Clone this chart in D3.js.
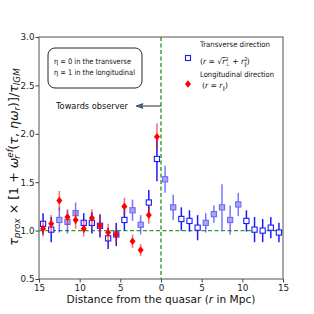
<!DOCTYPE html>
<html>
<head>
<meta charset="utf-8">
<script src="https://cdn.jsdelivr.net/npm/d3@7"></script>
<style>
body { margin: 0; background: #fff; }
svg text { font-family: "DejaVu Sans", sans-serif; }
</style>
</head>
<body>
<svg id="chart" width="314" height="314"></svg>
<script>
// transverse direction (blue squares), x = signed distance
var transX   = [-14.5,-13.5,-12.5,-11.5,-10.5,-9.5,-8.5,-7.5,-6.5,-5.5,-4.5,-3.5,-2.5,-1.5,-0.5,
                 0.5,1.5,2.5,3.5,4.5,5.5,6.5,7.5,8.5,9.5,10.5,11.5,12.5,13.5,14.5]
var transY   = [1.07,1.01,1.11,1.09,1.18,1.08,1.08,1.05,0.92,0.96,1.11,1.21,1.06,1.29,1.74,
                 1.53,1.24,1.12,1.10,1.03,1.08,1.17,1.24,1.11,1.27,1.10,1.01,1.00,1.03,0.98]
var transErr = [0.11,0.13,0.13,0.12,0.11,0.10,0.11,0.12,0.11,0.12,0.11,0.11,0.10,0.13,0.23,
                 0.14,0.13,0.12,0.11,0.13,0.10,0.09,0.24,0.15,0.12,0.11,0.13,0.12,0.11,0.10]
// points drawn in the lighter, filled style
var transShaded = [-12.5,-11.5,-10.5,-3.5,-2.5,0.5,1.5,5.5,6.5,7.5,8.5,9.5]

// longitudinal direction (red diamonds)
var longX   = [-14.5,-13.5,-12.5,-11.5,-10.5,-9.5,-8.5,-7.5,-6.5,-5.5,-4.5,-3.5,-2.5,-1.5,-0.5]
var longY   = [1.02,1.07,1.31,1.14,1.11,1.02,1.13,1.05,0.98,0.96,1.25,0.89,0.80,1.16,1.97]
var longErr = [0.08,0.09,0.10,0.08,0.09,0.08,0.09,0.10,0.09,0.09,0.09,0.07,0.06,0.09,0.14]

var xTicks = [-15,-10,-5,0,5,10,15]
var yTicks = [0.5,1.0,1.5,2.0,2.5,3.0]

var svg = d3.select("#chart")
var pL = 39, pR = 283, pT = 37, pB = 279

var x = d3.scaleLinear().domain([-15, 15]).range([pL, pR])
var y = d3.scaleLinear().domain([0.5, 3.0]).range([pB, pT])

// reference lines
svg.append("line")
    .attr("x1", x(0)).attr("x2", x(0)).attr("y1", pT).attr("y2", pB)
    .attr("stroke", "#2e9a2e").attr("stroke-width", 1.4).attr("stroke-dasharray", "4,2.5")
svg.append("line")
    .attr("x1", pL).attr("x2", pR).attr("y1", y(1)).attr("y2", y(1))
    .attr("stroke", "#2e9a2e").attr("stroke-width", 1.4).attr("stroke-dasharray", "4,2.5")

// blue series
var trans = transX.map(function (d, i) {
    return {x: d, y: transY[i], e: transErr[i], shaded: transShaded.indexOf(d) >= 0}
})
svg.selectAll(".tbar")
    .data(trans)
    .join("line")
    .attr("class", "tbar")
    .attr("x1", d => x(d.x)).attr("x2", d => x(d.x))
    .attr("y1", d => y(d.y + d.e)).attr("y2", d => y(d.y - d.e))
    .attr("stroke", "#1a1aff")
    .attr("stroke-opacity", d => d.shaded ? 0.6 : 1)
    .attr("stroke-width", 1.5)
svg.selectAll(".tpt")
    .data(trans)
    .join("rect")
    .attr("class", "tpt")
    .attr("x", d => x(d.x) - 2.6).attr("y", d => y(d.y) - 2.6)
    .attr("width", 5.2).attr("height", 5.2)
    .attr("fill", d => d.shaded ? "#a8a8f0" : "#fff")
    .attr("stroke", d => d.shaded ? "#6a6af5" : "#1a1aff")
    .attr("stroke-width", 1.1)

// red series
var longi = longX.map(function (d, i) { return {x: d, y: longY[i], e: longErr[i]} })
svg.selectAll(".lbar")
    .data(longi)
    .join("line")
    .attr("class", "lbar")
    .attr("x1", d => x(d.x)).attr("x2", d => x(d.x))
    .attr("y1", d => y(d.y + d.e)).attr("y2", d => y(d.y - d.e))
    .attr("stroke", "#ff0000").attr("stroke-opacity", 0.55).attr("stroke-width", 1.6)
svg.selectAll(".lpt")
    .data(longi)
    .join("path")
    .attr("class", "lpt")
    .attr("d", d => `M${x(d.x)} ${y(d.y) - 3.8} L${x(d.x) + 3} ${y(d.y)} L${x(d.x)} ${y(d.y) + 3.8} L${x(d.x) - 3} ${y(d.y)} Z`)
    .attr("fill", "#ff0000")

// frame
svg.append("rect")
    .attr("x", pL).attr("y", pT).attr("width", pR - pL).attr("height", pB - pT)
    .attr("fill", "none").attr("stroke", "#6e6e6e").attr("stroke-width", 1.2)

// axes
var gx = svg.append("g")
    .attr("transform", `translate(0,${pB})`)
    .call(d3.axisBottom(x).tickValues(xTicks).tickFormat(d => Math.abs(d)).tickSize(3.5).tickPadding(2))
var gy = svg.append("g")
    .attr("transform", `translate(${pL},0)`)
    .call(d3.axisLeft(y).tickValues(yTicks).tickFormat(d3.format(".1f")).tickSize(3.5).tickPadding(1))
gx.select(".domain").remove()
gy.select(".domain").remove()
svg.selectAll(".tick text").attr("font-family", "Liberation Sans, sans-serif").attr("font-size", 8.8).attr("fill", "#222")
svg.selectAll(".tick line").attr("stroke", "#444")

// axis labels
var xl = svg.append("text")
    .attr("x", 161).attr("y", 303).attr("text-anchor", "middle")
    .attr("font-size", 10.6).attr("fill", "#111")
xl.append("tspan").text("Distance from the quasar (")
xl.append("tspan").attr("font-style", "italic").text("r")
xl.append("tspan").text(" in Mpc)")

var yl = svg.append("text")
    .attr("transform", "translate(18,157) rotate(-90)")
    .attr("text-anchor", "middle").attr("font-size", 12.6).attr("fill", "#111")
yl.append("tspan").attr("font-style", "italic").text("τ")
yl.append("tspan").attr("font-style", "italic").attr("font-size", 8.8).attr("dy", 2.3).text("prox")
yl.append("tspan").attr("dy", -2.3).text(" × [1 + ")
yl.append("tspan").attr("font-style", "italic").text("ω")
yl.append("tspan").attr("font-style", "italic").attr("font-size", 8.8).attr("dy", -5).text("ef")
yl.append("tspan").attr("font-style", "italic").attr("font-size", 8.8).attr("dx", -9.5).attr("dy", 7.3).text("r")
yl.append("tspan").attr("dx", 5.5).attr("dy", -2.3).text("(")
yl.append("tspan").attr("font-style", "italic").text("τ")
yl.append("tspan").text(", ")
yl.append("tspan").attr("font-style", "italic").text("ηω")
yl.append("tspan").attr("font-style", "italic").attr("font-size", 8.8).attr("dy", 2.3).text("r")
yl.append("tspan").attr("dy", -2.3).text(")]/")
yl.append("tspan").attr("font-style", "italic").text("τ")
yl.append("tspan").attr("font-style", "italic").attr("font-size", 8.8).attr("dy", 2.3).text("IGM")

// eta note box
svg.append("rect")
    .attr("x", 48).attr("y", 48).attr("width", 94).attr("height", 40).attr("rx", 7)
    .attr("fill", "#fff").attr("stroke", "#111").attr("stroke-width", 0.9)
var note = svg.append("g").attr("font-family", "Liberation Sans, sans-serif").attr("font-size", 7.6).attr("fill", "#111")
note.append("text").attr("x", 54).attr("y", 64).attr("textLength", 77).attr("lengthAdjust", "spacingAndGlyphs")
    .text("η = 0 in the transverse")
note.append("text").attr("x", 54).attr("y", 75).attr("textLength", 81).attr("lengthAdjust", "spacingAndGlyphs")
    .text("η = 1 in the longitudinal")

// towards observer arrow
svg.append("text")
    .attr("x", 56).attr("y", 109).attr("font-family", "Liberation Sans, sans-serif")
    .attr("font-size", 9.2).attr("fill", "#111")
    .attr("textLength", 72).attr("lengthAdjust", "spacingAndGlyphs").text("Towards observer")
svg.append("line")
    .attr("x1", x(0)).attr("x2", 141).attr("y1", 106).attr("y2", 106)
    .attr("stroke", "#111").attr("stroke-width", 0.9)
svg.append("path")
    .attr("d", "M136 106 L143 103.6 L141.5 106 L143 108.4 Z")
    .attr("fill", "#3a7fc0").attr("stroke", "#111").attr("stroke-width", 0.6)

// legend
var lg = svg.append("g").attr("font-family", "Liberation Sans, sans-serif").attr("font-size", 7.6).attr("fill", "#111")
lg.append("rect").attr("x", 185.5).attr("y", 55.5).attr("width", 5).attr("height", 5)
    .attr("fill", "#fff").attr("stroke", "#1a1aff").attr("stroke-width", 1.1)
lg.append("text").attr("x", 200).attr("y", 47).attr("textLength", 70).attr("lengthAdjust", "spacingAndGlyphs")
    .text("Transverse direction")
var t2 = lg.append("text").attr("x", 200).attr("y", 64)
t2.append("tspan").text("(")
t2.append("tspan").attr("font-style", "italic").text("r")
t2.append("tspan").text(" = √")
t2.append("tspan").attr("font-style", "italic").attr("text-decoration", "overline").text("r")
t2.append("tspan").attr("font-size", 5).attr("dy", -3).text("2")
t2.append("tspan").attr("font-size", 5).attr("dx", -3).attr("dy", 5).text("⊥")
t2.append("tspan").attr("dy", -2).text(" + ")
t2.append("tspan").attr("font-style", "italic").text("r")
t2.append("tspan").attr("font-size", 5).attr("dy", -3).text("2")
t2.append("tspan").attr("font-size", 5).attr("dx", -3).attr("dy", 5).text("∥")
t2.append("tspan").attr("dy", -2).text(")")
lg.append("path").attr("d", "M188 80.2 L191 84 L188 87.8 L185 84 Z").attr("fill", "#ff0000")
lg.append("text").attr("x", 200).attr("y", 77).attr("textLength", 74).attr("lengthAdjust", "spacingAndGlyphs")
    .text("Longitudinal direction")
var t4 = lg.append("text").attr("x", 202).attr("y", 88)
t4.append("tspan").text("(")
t4.append("tspan").attr("font-style", "italic").text("r")
t4.append("tspan").text(" = ")
t4.append("tspan").attr("font-style", "italic").text("r")
t4.append("tspan").attr("font-size", 5).attr("dy", 2).text("∥")
t4.append("tspan").attr("dy", -2).text(")")
</script>
</body>
</html>
